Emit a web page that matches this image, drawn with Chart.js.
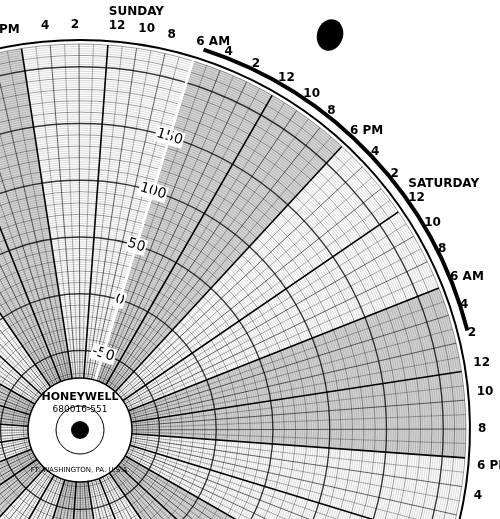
<!DOCTYPE html>
<html>
<head>
<meta charset="utf-8">
<script src="https://cdn.jsdelivr.net/npm/chart.js@4.4.0/dist/chart.umd.min.js"></script>
<style>
  html, body { margin: 0; padding: 0; background: #fff; overflow: hidden; width: 500px; height: 519px; }
  #chart { position: absolute; left: -482px; top: -126px; }
</style>
</head>
<body>
<canvas id="chart" width="1100" height="1100"></canvas>
<script>
// clockwise from Sunday 6 AM, two-hour marks going back in time
var hourMarks = ["6 AM", "4", "2", "12", "10", "8", "6 PM", "4", "2", "12", "10", "8"];
var days = ["SATURDAY", "FRIDAY", "THURSDAY", "WEDNESDAY", "TUESDAY", "MONDAY", "SUNDAY"];
var dayIndex = [9, 21, 33, 45, 57, 69, 81];
var nightMarks = [0, 1, 2, 3, 4, 5];
var scaleMin = -120, scaleMax = 220, gridStep = 2;
var tickLabels = [-50, 0, 50, 100, 150];

var labels = [], values = [], fills = [];
for (var d = 0; d < 7; d++) {
    hourMarks.forEach(function (h, i) {
        var idx = d * 12 + i;
        var k = dayIndex.indexOf(idx);
        labels.push(k >= 0 ? [days[k], h] : h);
        labels.push("");
        values.push(scaleMax, scaleMax);
        var c = nightMarks.indexOf(i) >= 0 ? "rgba(0,0,0,0.17)" : "rgba(0,0,0,0)";
        fills.push(c, c);
    });
}

var hub = {
    id: "hub",
    afterDraw: function (chart) {
        var s = chart.scales.r, ctx = chart.ctx;
        var x = s.xCenter, y = s.yCenter;
        ctx.save();
        ctx.fillStyle = "#fff";
        ctx.beginPath(); ctx.arc(x, y, 52, 0, Math.PI * 2); ctx.fill();
        ctx.lineWidth = 1.5; ctx.strokeStyle = "#000"; ctx.stroke();
        ctx.beginPath(); ctx.arc(x, y, 24, 0, Math.PI * 2); ctx.lineWidth = 1; ctx.stroke();
        ctx.fillStyle = "#000";
        ctx.beginPath(); ctx.arc(x, y, 9, 0, Math.PI * 2); ctx.fill();
        ctx.textAlign = "center";
        ctx.font = "bold 11px 'DejaVu Sans'";
        ctx.fillText("HONEYWELL", x, y - 30);
        ctx.font = "9px 'DejaVu Sans'";
        ctx.fillText("680016-551", x, y - 18);
        ctx.font = "7px 'DejaVu Sans'";
        ctx.fillText("FT. WASHINGTON, PA. U.S.A.", x, y + 42);
        ctx.beginPath(); ctx.arc(x, y, s.drawingArea + 4, -Math.PI * 0.62, 0.45);
        ctx.lineWidth = 2; ctx.stroke();
        ctx.beginPath(); ctx.arc(x, y, s.drawingArea + 14, -Math.PI * 0.4, -Math.PI * 0.08);
        ctx.lineWidth = 4; ctx.stroke();
        ctx.beginPath(); ctx.ellipse(x + 250, y - 395, 13, 16, 0.3, 0, Math.PI * 2); ctx.fill();
        ctx.restore();
    }
};

new Chart(document.getElementById("chart"), {
    type: "polarArea",
    data: { labels: labels, datasets: [{ data: values, backgroundColor: fills, borderWidth: 0 }] },
    plugins: [hub],
    options: {
        responsive: false,
        animation: false,
        startAngle: 17,
        layout: { padding: 95 },
        plugins: { legend: { display: false }, tooltip: { enabled: false } },
        scales: {
            r: {
                min: scaleMin, max: scaleMax,
                startAngle: 17,
                afterBuildTicks: function (scale) {
                    var t = [];
                    for (var v = scaleMin; v <= scaleMax; v += gridStep) t.push({ value: v });
                    scale.ticks = t;
                },
                ticks: {
                    autoSkip: false, z: 1, color: "#000",
                    font: { size: 14, family: "'DejaVu Sans'" },
                    backdropColor: "#fff", backdropPadding: 1,
                    callback: function (v) { return tickLabels.indexOf(v) >= 0 ? String(v) : ""; }
                },
                grid: {
                    color: function (c) { return c.tick && c.tick.value % 10 === 0 ? "rgba(0,0,0,0.8)" : "rgba(0,0,0,0.3)"; },
                    lineWidth: function (c) { return c.tick && c.tick.value % 50 === 0 ? 1.4 : 0.5; }
                },
                angleLines: {
                    display: true,
                    color: function (c) { return c.index % 2 === 0 ? "#000" : "rgba(0,0,0,0.5)"; },
                    lineWidth: function (c) { return c.index % 6 === 0 ? 1.6 : 0.6; }
                },
                pointLabels: {
                    display: true, color: "#000", padding: 4,
                    font: { size: 12, family: "'DejaVu Sans'", weight: "bold" }
                }
            }
        }
    }
});
</script>
</body>
</html>
